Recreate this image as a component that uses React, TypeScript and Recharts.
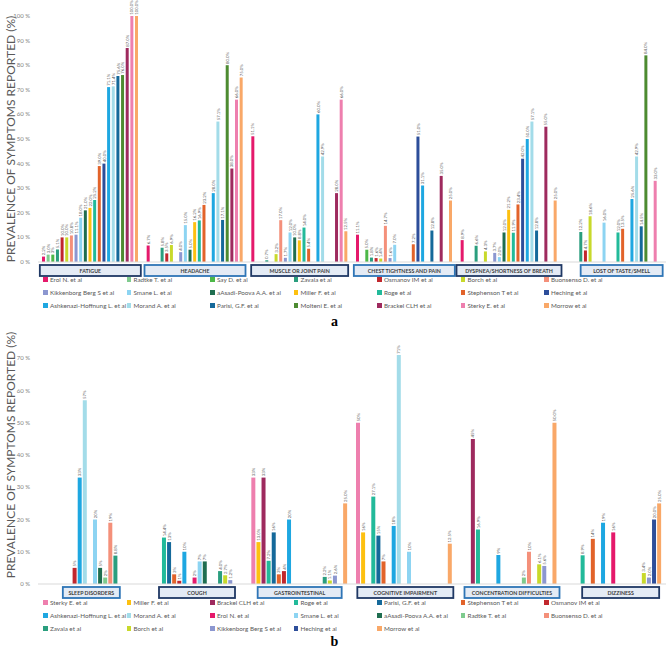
import React from 'react';
import { BarChart, Bar, XAxis, YAxis, LabelList } from 'recharts';

const FONT = 'Lato, "Open Sans", sans-serif';

const studyColors: Record<string, string> = {
  'Erol N. et al': '#E5196B',
  'Radtke T. et al': '#7FCB8E',
  'Say D. et al': '#4DB848',
  'Zavala et al': '#2A9E7E',
  'Osmanov IM et al': '#C1272D',
  'Borch et al': '#C8D92B',
  'Buonsenso D. et al': '#F4907A',
  'Kikkenborg Berg S et al': '#8C97D0',
  'Smane L. et al': '#8DD4F2',
  'aAsadi-Poova A.A. et al': '#1F6E50',
  'Miller F. et al': '#FDC010',
  'Roge et al': '#22BA9A',
  'Stephenson T et al': '#E2632A',
  'Heching et al': '#2D4E9A',
  'Ashkenazi-Hoffnung L. et al': '#1EA7E1',
  'Morand A. et al': '#A3DCE9',
  'Parisi, G.F. et al': '#15699A',
  'Molteni E. et al': '#4D8B31',
  'Brackel CLH et al': '#9E2A5E',
  'Sterky E. et al': '#EE7FAE',
  'Morrow et al': '#F9A868',
};

// ---- panel a ----
const symptomsA = ['FATIGUE', 'HEADACHE', 'MUSCLE OR JOINT PAIN', 'CHEST TIGHTNESS AND PAIN', 'DYSPNEA/SHORTNESS OF BREATH', 'LOST OF TASTE/SMELL'];

const erolA = ['2.2', '6.7', '51.1', '11.1', '8.9', null];
const radtkeA = ['3.0', null, null, null, null, null];
const sayA = ['3', null, null, '5.0', null, null];
const zavalaA = ['5.1', '5.8', '0.7', '1.8', '6.6', '12.2'];
const osmanovA = ['10.0', '3.5', null, '1.6', null, '4.7'];
const borchA = ['10.0', '6.9', '3.2', '1.4', '4.3', '18.6'];
const buonsensoA = ['10.8', null, '17.0', '14.7', null, null];
const kikkenborgA = ['11.1', '4.0', '1.7', '1.6', '3.7', null];
const smaneA = ['18.0', '15.0', '12.0', '7.0', '2.0', '16.0'];
const asadiA = ['21.0', '5.0', '10.0', null, '12.0', null];
const millerA = ['22.0', '16.2', '8.8', null, '21.2', null];
const rogeA = ['25.2', '16.9', '14.0', null, '11.9', '12.0'];
const stephensonA = ['39.0', '23.2', '5.4', '7.2', '23.4', '13.5'];
const hechingA = ['40.0', null, null, '51.0', '42.0', null];
const ashkenaziA = ['71.1', '28.0', '60.0', '31.1', '50.0', '25.6'];
const morandA = ['71.4', '57.1', '42.9', null, '57.1', '42.9'];
const parisiA = ['75.6', '17.1', null, '12.8', '12.8', '14.5'];
const molteniA = ['76.0', '80.0', null, null, null, '84.0'];
const brackelA = ['87.0', '38.0', '28.0', '35.0', '55.0', null];
const sterkyA = ['100.0', '66.0', '66.0', null, null, '33.0'];
const morrowA = ['100.0', '75.0', '12.5', '25.0', '25.0', null];

const seriesA: [string, (string | null)[]][] = [
  ['Erol N. et al', erolA],
  ['Radtke T. et al', radtkeA],
  ['Say D. et al', sayA],
  ['Zavala et al', zavalaA],
  ['Osmanov IM et al', osmanovA],
  ['Borch et al', borchA],
  ['Buonsenso D. et al', buonsensoA],
  ['Kikkenborg Berg S et al', kikkenborgA],
  ['Smane L. et al', smaneA],
  ['aAsadi-Poova A.A. et al', asadiA],
  ['Miller F. et al', millerA],
  ['Roge et al', rogeA],
  ['Stephenson T et al', stephensonA],
  ['Heching et al', hechingA],
  ['Ashkenazi-Hoffnung L. et al', ashkenaziA],
  ['Morand A. et al', morandA],
  ['Parisi, G.F. et al', parisiA],
  ['Molteni E. et al', molteniA],
  ['Brackel CLH et al', brackelA],
  ['Sterky E. et al', sterkyA],
  ['Morrow et al', morrowA],
];
const ticksA = [0, 10, 20, 30, 40, 50, 60, 70, 80, 90, 100];

// ---- panel b ----
const symptomsB = ['SLEEP DISORDERS', 'COUGH', 'GASTROINTESTINAL', 'COGNITIVE IMPAIRMENT', 'CONCENTRATION DIFFICULTIES', 'DIZZINESS'];

const sterkyB = [null, null, '33', '50', null, null];
const millerB = [null, null, '13.0', '16', null, null];
const brackelB = [null, null, '33', null, '45', null];
const rogeB = [null, '14.4', '7.2', '27.1', '16.9', '8.9'];
const parisiB = [null, '13', '16', '15', null, null];
const stephensonB = [null, '3', '3', '7', null, '14'];
const osmanovB = ['5', '1', '4', null, null, null];
const ashkenaziB = ['33', '10', '20', '18', '9', '19'];
const morandB = ['57', null, null, '71', null, null];
const erolB = [null, '2', null, null, null, '16'];
const smaneB = ['20', '7', null, '10', null, null];
const asadiB = ['5', '7', null, null, null, null];
const radtkeB = ['2', null, null, null, '2', null];
const buonsensoB = ['19', null, null, null, '10', null];
const zavalaB = ['8.8', '4.0', '2.2', null, null, null];
const borchB = [null, '2.7', '1.1', null, '6.1', '3.4'];
const kikkenborgB = [null, '1.2', '2.6', null, '5.6', '2.0'];
const hechingB = [null, null, null, null, null, '20.0'];
const morrowB = [null, null, '25.0', '12.5', '50.0', '25.0'];

const seriesB: [string, (string | null)[]][] = [
  ['Sterky E. et al', sterkyB],
  ['Miller F. et al', millerB],
  ['Brackel CLH et al', brackelB],
  ['Roge et al', rogeB],
  ['Parisi, G.F. et al', parisiB],
  ['Stephenson T et al', stephensonB],
  ['Osmanov IM et al', osmanovB],
  ['Ashkenazi-Hoffnung L. et al', ashkenaziB],
  ['Morand A. et al', morandB],
  ['Erol N. et al', erolB],
  ['Smane L. et al', smaneB],
  ['aAsadi-Poova A.A. et al', asadiB],
  ['Radtke T. et al', radtkeB],
  ['Buonsenso D. et al', buonsensoB],
  ['Zavala et al', zavalaB],
  ['Borch et al', borchB],
  ['Kikkenborg Berg S et al', kikkenborgB],
  ['Heching et al', hechingB],
  ['Morrow et al', morrowB],
];
const ticksB = [0, 10, 20, 30, 40, 50, 60, 70];

// category box look
const DARK = '#1F3864';
const BLUE = '#2E75B6';
const boxA = [
  { w: 101, dx: 0, c: DARK },
  { w: 101, dx: 0, c: BLUE },
  { w: 97, dx: 0, c: DARK },
  { w: 101, dx: 0, c: BLUE },
  { w: 105, dx: 0, c: DARK },
  { w: 82, dx: 8, c: BLUE },
];
const boxB = [
  { w: 57, dx: 1, c: BLUE },
  { w: 76, dx: 2, c: DARK },
  { w: 84, dx: 0, c: BLUE },
  { w: 96, dx: 1, c: DARK },
  { w: 95, dx: 3, c: BLUE },
  { w: 77, dx: 7, c: DARK },
];

const buildRows = (cats: string[], series: [string, (string | null)[]][]) =>
  cats.map((cat, i) => {
    const row: Record<string, any> = { cat };
    series.forEach(([, vals], s) => {
      const v = vals[i];
      row['s' + s] = v == null ? null : parseFloat(v);
      row['l' + s] = v;
    });
    return row;
  });

const BarLabel = (props: any) => {
  const { x, y, width, value } = props;
  if (value == null || x == null) return null;
  const cx = Number(x) + Number(width) / 2 + 1.6;
  const ty = Number(y) - 1.3;
  return (
    <text
      transform={`translate(${cx},${ty}) rotate(-90)`}
      fontSize={4.3}
      fill="#595959"
      fontFamily={FONT}
      textAnchor="start"
    >
      {value}%
    </text>
  );
};

const makeTick = (boxes: { w: number; dx: number; c: string }[]) => (props: any) => {
  const { x, y, payload, index } = props;
  const b = boxes[index] || boxes[0];
  const cx = x + b.dx;
  return (
    <g>
      <rect x={cx - b.w / 2} y={y + 3} width={b.w} height={11} fill="#E4EBF5" stroke={b.c} strokeWidth={1.8} />
      <text x={cx} y={y + 10.8} textAnchor="middle" fontSize={5.3} fontWeight={700} fill="#404040" fontFamily={FONT}>
        {payload.value}
      </text>
    </g>
  );
};

const YTick = (props: any) => {
  const { x, y, payload } = props;
  return (
    <text x={x} y={y} dy={2} textAnchor="end" fontSize={6} fill="#7F7F7F" fontFamily={FONT}>
      {`${payload.value}\u00A0%`}
    </text>
  );
};

const YTitle = (props: any) => {
  const vb = props.viewBox || {};
  const cy = (vb.y || 0) + (vb.height || 0) / 2;
  return (
    <text transform={`translate(15,${cy}) rotate(-90)`} textAnchor="middle" fontSize={12} fill="#595959" fontFamily={FONT}>
      PREVALENCE OF SYMPTOMS REPORTED (%)
    </text>
  );
};

type PanelProps = {
  cats: string[];
  series: [string, (string | null)[]][];
  ticks: number[];
  max: number;
  height: number;
  top: number;
  boxes: { w: number; dx: number; c: string }[];
  barGap: number;
  catGap: number;
};

const Panel = ({ cats, series, ticks, max, height, top, boxes, barGap, catGap }: PanelProps) => {
  const rows = buildRows(cats, series);
  return (
    <BarChart
      width={669}
      height={height}
      data={rows}
      margin={{ top, right: 3, bottom: 0, left: 0 }}
      barGap={barGap}
      barCategoryGap={catGap}
    >
      <XAxis
        dataKey="cat"
        interval={0}
        height={18}
        tickLine={false}
        tickSize={0}
        tickMargin={0}
        axisLine={{ stroke: '#D9D9D9' }}
        tick={makeTick(boxes)}
      />
      <YAxis
        width={38}
        domain={[0, max]}
        ticks={ticks}
        allowDataOverflow
        axisLine={false}
        tickLine={false}
        tick={<YTick />}
        label={(p: any) => <YTitle {...p} />}
      />
      {series.map(([name], s) => (
        <Bar key={name} dataKey={'s' + s} name={name} fill={studyColors[name]} isAnimationActive={false}>
          <LabelList dataKey={'l' + s} content={<BarLabel />} />
        </Bar>
      ))}
    </BarChart>
  );
};

const LegendGrid = ({ names, top }: { names: string[]; top: number }) => (
  <div
    style={{
      position: 'absolute',
      left: 43,
      top,
      display: 'grid',
      gridTemplateColumns: 'repeat(7, 83.5px)',
      gridAutoRows: '13px',
      fontFamily: FONT,
      fontSize: 6.3,
      color: '#595959',
    }}
  >
    {names.map((n) => (
      <div key={n} style={{ display: 'flex', alignItems: 'center', whiteSpace: 'nowrap' }}>
        <span style={{ width: 4.5, height: 4.5, background: studyColors[n], marginRight: 2.5, flexShrink: 0 }} />
        {n}
      </div>
    ))}
  </div>
);

const PanelLetter = ({ text, top }: { text: string; top: number }) => (
  <div
    style={{
      position: 'absolute',
      left: 0,
      width: 669,
      top,
      textAlign: 'center',
      fontFamily: '"Liberation Serif", serif',
      fontWeight: 700,
      fontSize: 14,
    }}
  >
    {text}
  </div>
);

export default function App() {
  return (
    <div style={{ position: 'absolute', left: 0, top: 0, width: 669, height: 649, background: '#fff', overflow: 'hidden' }}>
      <div style={{ position: 'absolute', left: 0, top: 0 }}>
        <Panel
          cats={symptomsA}
          series={seriesA}
          ticks={ticksA}
          max={100}
          height={280}
          top={16}
          boxes={boxA}
          barGap={1.65}
          catGap={4}
        />
      </div>
      <LegendGrid names={seriesA.map((s) => s[0])} top={273} />
      <PanelLetter text="a" top={314} />
      <div style={{ position: 'absolute', left: 0, top: 320 }}>
        <Panel
          cats={symptomsB}
          series={seriesB}
          ticks={ticksB}
          max={80}
          height={282}
          top={6}
          boxes={boxB}
          barGap={1.1}
          catGap={4}
        />
      </div>
      <LegendGrid names={seriesB.map((s) => s[0])} top={596} />
      <PanelLetter text="b" top={634} />
    </div>
  );
}
